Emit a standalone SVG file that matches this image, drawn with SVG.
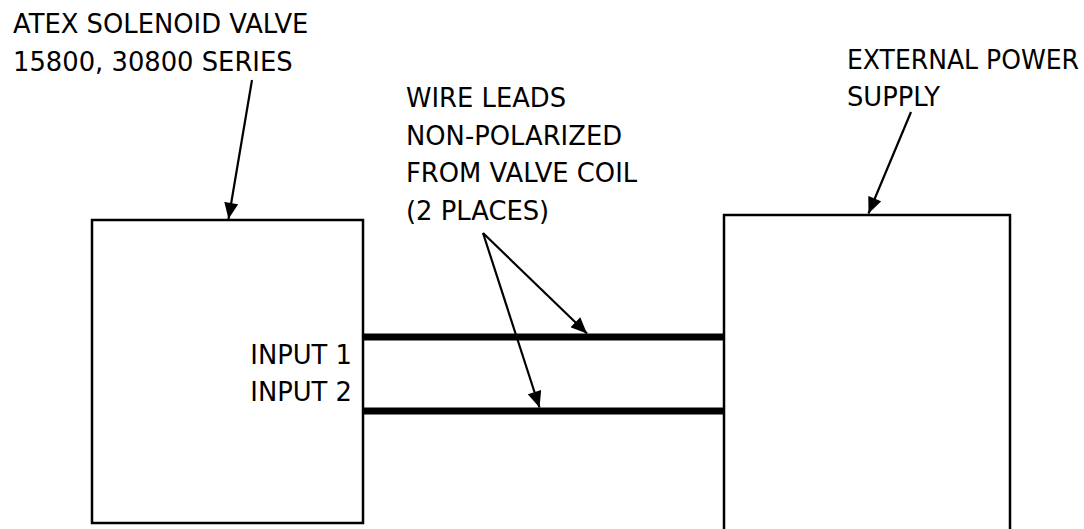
<svg xmlns="http://www.w3.org/2000/svg" width="1084" height="529" viewBox="0 0 1084 529">
<style>
text{font-family:"DejaVu Sans",Verdana,sans-serif;font-size:25.8px;fill:#000}
.box{fill:#fff;stroke:#000;stroke-width:2.5}
.wire{stroke:#000;stroke-width:7;fill:none}
.lead{stroke:#000;stroke-width:2.2;fill:none;marker-end:url(#ah)}
</style>
<defs>
<marker id="ah" markerUnits="userSpaceOnUse" markerWidth="18" markerHeight="14" refX="15" refY="6.5" orient="auto" viewBox="0 0 16 13">
<path d="M0,0 L15,6.5 L0,13 Z" fill="#000"/>
</marker>
</defs>
<rect width="1084" height="529" fill="#fff"/>
<g id="valve">
<rect class="box" x="92" y="220" width="271" height="303"/>
<text x="352" y="364" text-anchor="end">INPUT 1</text>
<text x="352" y="401" text-anchor="end">INPUT 2</text>
</g>
<g id="power">
<rect class="box" x="724" y="215" width="286" height="330"/>
</g>
<g id="labels">
<text x="13" y="33">ATEX SOLENOID VALVE</text>
<text x="13" y="71">15800, 30800 SERIES</text>
<text x="406" y="107">WIRE LEADS</text>
<text x="406" y="145">NON-POLARIZED</text>
<text x="406" y="182">FROM VALVE COIL</text>
<text x="406" y="220">(2 PLACES)</text>
<text x="847" y="69" textLength="232" lengthAdjust="spacingAndGlyphs">EXTERNAL POWER</text>
<text x="847" y="106">SUPPLY</text>
</g>
<g id="connectors">
<line class="wire" x1="363" y1="337" x2="724" y2="337"/>
<line class="wire" x1="363" y1="411" x2="724" y2="411"/>
<line class="lead" x1="252" y1="80" x2="228.5" y2="219"/>
<line class="lead" x1="911" y1="112" x2="868.5" y2="213.5"/>
<line class="lead" x1="483" y1="233" x2="587" y2="333.5"/>
<line class="lead" x1="483" y1="233" x2="539.5" y2="407.5"/>
</g>
</svg>
